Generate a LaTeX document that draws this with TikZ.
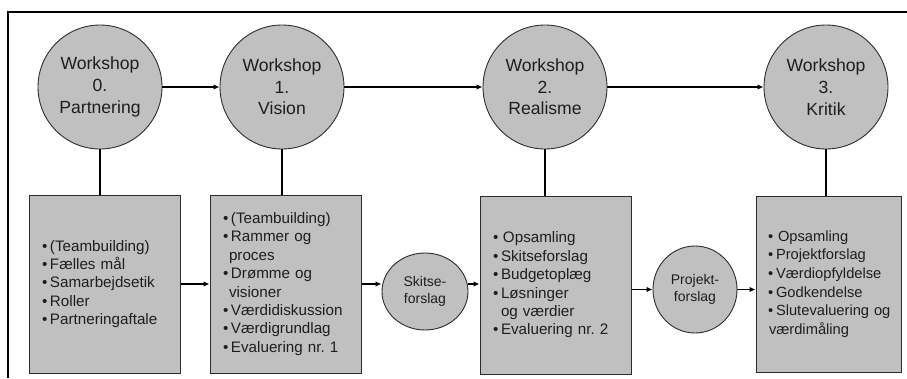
\documentclass[tikz,border=0pt]{standalone}
\usepackage{fontspec}
\setmainfont{Liberation Sans}
\usetikzlibrary{arrows.meta,shapes.geometric,calc}
\definecolor{shfill}{RGB}{192,192,192}
\definecolor{shline}{RGB}{45,45,45}
\definecolor{txt}{RGB}{30,30,30}
\newcommand\bl{\makebox[8pt][l]{•}}
\newcommand\cn{\hspace*{6pt}}
\frenchspacing
\begin{document}
\begin{tikzpicture}[x=1pt,y=-1pt,
  ws/.style={circle,draw=shline,fill=shfill,line width=0.9pt,minimum size=124pt,inner sep=0pt,
    align=center,text=txt,font=\fontsize{17.6}{21.7}\selectfont},
  sm/.style={ellipse,draw=shline,fill=shfill,line width=0.9pt,inner sep=0pt,
    align=center,text=txt,font=\fontsize{14}{16.7}\selectfont},
  box/.style={rectangle,draw=shline,fill=shfill,line width=1pt,inner ysep=0pt,
    align=left,text=txt,font=\fontsize{15.2}{18.4}\selectfont},
  conn/.style={draw=black,line width=1.3pt},
  arr/.style={conn,-{Latex[length=6pt,width=5.5pt]}}]
\useasboundingbox (0,0) rectangle (907,378);
\coordinate (fbl) at (8,378);
\coordinate (ftl) at (8,12);
\coordinate (ftr) at (907,12);
\draw[line width=2.4pt] (fbl) -- (ftl) -- (ftr);

\node[ws] (w0) at (100,87) {Workshop\\0.\\Partnering};
\node[ws] (w1) at (282,87) {Workshop\\1.\\Vision};
\node[ws] (w2) at (545,87) {Workshop\\2.\\Realisme};
\node[ws] (w3) at (826,87) {Workshop\\3.\\Kritik};

\node[box,inner xsep=13pt,text width=125pt,minimum height=178pt] (b0) at (104.5,284)
  {\bl(Teambuilding)\\\bl Fælles mål\\\bl Samarbejdsetik\\\bl Roller\\\bl Partneringaftale};
\node[box,inner xsep=13pt,text width=125pt,minimum height=178pt] (b1) at (285.5,284)
  {\bl(Teambuilding)\\\bl Rammer og\\\cn proces\\\bl Drømme og\\\cn visioner\\\bl Værdidiskussion\\\bl Værdigrundlag\\\bl Evaluering nr. 1};
\node[box,inner xsep=13pt,text width=125pt,minimum height=178pt] (b2) at (555.5,285)
  {\bl\hspace{2pt}Opsamling\\\bl Skitseforslag\\\bl Budgetoplæg\\\bl Løsninger\\\hspace*{8pt}og værdier\\\bl Evaluering nr. 2};
\node[box,inner xsep=12pt,text width=121pt,minimum height=176pt,font=\fontsize{14.7}{18.6}\selectfont] (b3) at (828.5,284)
  {\bl\hspace{2pt}Opsamling\\\bl Projektforslag\\\bl Værdiopfyldelse\\\bl Godkendelse\\\bl\mbox{Slutevaluering og}\\\hspace*{1pt}værdimåling};

\node[sm,minimum width=86pt,minimum height=77pt] (sk) at (425,291.5) {Skitse-\\forslag};
\node[sm,minimum width=84pt,minimum height=87pt] (pj) at (695,289.5) {Projekt-\\forslag};

\draw[arr] (w0) -- (w1);
\draw[arr] (w1) -- (w2);
\draw[arr] (w2) -- (w3);
\draw[conn] (w0.south) -- (w0.south |- b0.north);
\draw[conn] (w1.south) -- (w1.south |- b1.north);
\draw[conn] (w2.south) -- (w2.south |- b2.north);
\draw[conn] (w3.south) -- (w3.south |- b3.north);

\draw[arr] (b0.east) -- (b1.west);
\draw[arr] (b1.east) -- (b1.east -| sk.west);
\draw[arr] (sk.east |- b1.east) -- (b2.west |- b1.east);
\draw[arr] (b2.east |- pj.west) -- (pj.west);
\draw[arr] (pj.east) -- (pj.east -| b3.west);
\end{tikzpicture}
\end{document}
